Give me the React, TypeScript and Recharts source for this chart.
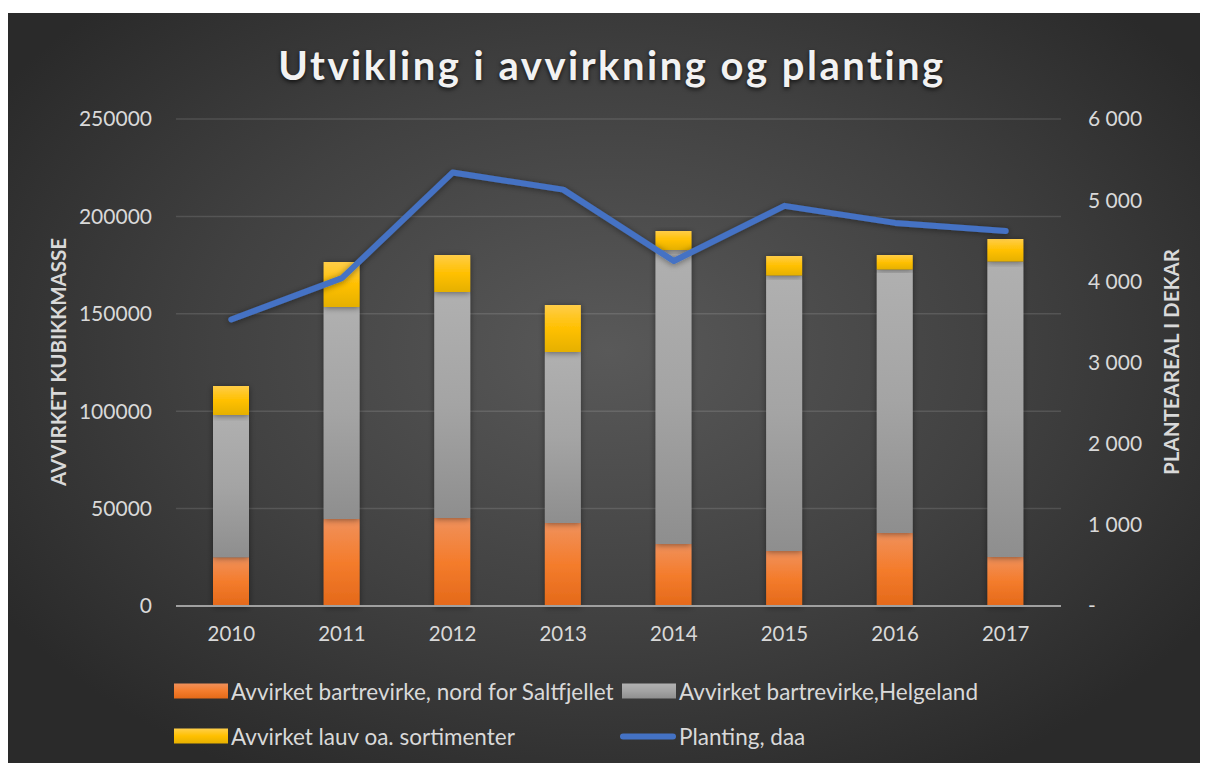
import React from 'react';
import {
  ComposedChart,
  Bar,
  Line,
  XAxis,
  YAxis,
  CartesianGrid,
} from 'recharts';

const years = ['2010', '2011', '2012', '2013', '2014', '2015', '2016', '2017'];
const nord = [25000, 44700, 45200, 42600, 31800, 28200, 37500, 25200];
const helgeland = [73000, 108800, 116000, 87800, 151000, 141400, 135200, 151600];
const lauv = [15000, 23100, 19000, 24100, 9700, 10100, 7500, 11600];
const planting = [3530, 4040, 5340, 5130, 4250, 4930, 4720, 4620];

const leftTicks = [0, 50000, 100000, 150000, 200000, 250000];
const rightTicks = [0, 1000, 2000, 3000, 4000, 5000, 6000];

const seriesNames = {
  nord: 'Avvirket bartrevirke, nord for Saltfjellet',
  helgeland: 'Avvirket bartrevirke,Helgeland',
  lauv: 'Avvirket lauv oa. sortimenter',
  planting: 'Planting, daa',
};

const data = years.map((year, i) => ({
  year,
  nord: nord[i],
  helgeland: helgeland[i],
  lauv: lauv[i],
  planting: planting[i],
}));

const FONT = 'Lato, "Open Sans", sans-serif';
const TEXT = '#d9d9d9';

function formatRight(v: number): string {
  if (v === 0) return '-';
  return String(v).replace(/\B(?=(\d{3})+(?!\d))/g, ' ');
}

type Kind = 'nord' | 'helgeland' | 'lauv' | 'planting';

function Swatch({ kind }: { kind: Kind }) {
  if (kind === 'planting') {
    return (
      <span
        style={{
          display: 'inline-block',
          width: 56,
          height: 6,
          borderRadius: 3,
          background: '#4472c4',
          marginRight: 3,
        }}
      />
    );
  }
  const bg = {
    nord: 'linear-gradient(#f0905a, #f47c2c 50%, #e46a18)',
    helgeland: 'linear-gradient(#b2b2b2, #a3a3a3 50%, #8f8f8f)',
    lauv: 'linear-gradient(#ffcf4a, #ffc000 50%, #e6b000)',
  }[kind];
  return (
    <span
      style={{
        display: 'inline-block',
        width: 54,
        height: 15,
        background: bg,
        marginRight: 3,
      }}
    />
  );
}

function LegendItem({ kind, left, top }: { kind: Kind; left: number; top: number }) {
  return (
    <div
      style={{
        position: 'absolute',
        left,
        top,
        transform: 'translateY(-50%)',
        display: 'flex',
        alignItems: 'center',
        color: TEXT,
        fontFamily: FONT,
        fontSize: 22.5,
        whiteSpace: 'nowrap',
      }}
    >
      <Swatch kind={kind} />
      {seriesNames[kind]}
    </div>
  );
}

export default function App() {
  return (
    <div
      style={{
        position: 'relative',
        marginTop: 5,
        width: 1200,
        height: 750,
        background: 'radial-gradient(ellipse 60% 65% at 50% 45%, #595959 0%, #414141 55%, #2a2a2a 100%)',
        overflow: 'hidden',
      }}
    >
      <div
        style={{
          position: 'absolute',
          left: 0,
          width: 1208,
          top: 28,
          textAlign: 'center',
          color: '#f2f2f2',
          fontFamily: FONT,
          fontWeight: 700,
          fontSize: 40,
          letterSpacing: 2.5,
          textShadow: '0 2px 4px rgba(0,0,0,0.7)',
        }}
      >
        Utvikling i avvirkning og planting
      </div>

      <div
        style={{
          position: 'absolute',
          left: 50,
          top: 349,
          transform: 'translate(-50%, -50%) rotate(-90deg)',
          color: TEXT,
          fontFamily: FONT,
          fontWeight: 700,
          fontSize: 20.5,
          whiteSpace: 'nowrap',
        }}
      >
        AVVIRKET KUBIKKMASSE
      </div>
      <div
        style={{
          position: 'absolute',
          left: 1163,
          top: 349,
          transform: 'translate(-50%, -50%) rotate(-90deg)',
          color: TEXT,
          fontFamily: FONT,
          fontWeight: 700,
          fontSize: 20.5,
          whiteSpace: 'nowrap',
        }}
      >
        PLANTEAREAL I DEKAR
      </div>

      <ComposedChart
        width={1200}
        height={750}
        data={data}
        margin={{ top: 106, right: 67, bottom: 117, left: 68 }}
        barSize={36}
        style={{ position: 'absolute', left: 0, top: 0 }}
      >
        <defs>
          <linearGradient id="gNord" x1="0" y1="0" x2="0" y2="1">
            <stop offset="0%" stopColor="#f0915c" />
            <stop offset="50%" stopColor="#f47c2c" />
            <stop offset="100%" stopColor="#e4691a" />
          </linearGradient>
          <linearGradient id="gHelg" x1="0" y1="0" x2="0" y2="1">
            <stop offset="0%" stopColor="#b0b0b0" />
            <stop offset="50%" stopColor="#a4a4a4" />
            <stop offset="100%" stopColor="#8e8e8e" />
          </linearGradient>
          <linearGradient id="gLauv" x1="0" y1="0" x2="0" y2="1">
            <stop offset="0%" stopColor="#ffcd48" />
            <stop offset="50%" stopColor="#ffc000" />
            <stop offset="100%" stopColor="#e5b000" />
          </linearGradient>
          <filter id="shadow" x="-50%" y="-20%" width="200%" height="140%">
            <feDropShadow dx="0" dy="1" stdDeviation="3" floodColor="#000" floodOpacity="0.45" />
          </filter>
        </defs>
        <CartesianGrid
          yAxisId="left"
          vertical={false}
          stroke="rgba(255,255,255,0.12)"
          strokeWidth={1.5}
        />
        <XAxis
          dataKey="year"
          height={40}
          tickLine={false}
          tickSize={0}
          tickMargin={20}
          axisLine={{ stroke: '#a0a0a0', strokeWidth: 2 }}
          tick={{ fill: TEXT, fontSize: 20.5, fontFamily: FONT }}
        />
        <YAxis
          yAxisId="left"
          orientation="left"
          width={100}
          domain={[0, 250000]}
          ticks={leftTicks}
          interval={0}
          axisLine={false}
          tickLine={false}
          tickSize={0}
          tickMargin={24}
          tick={{ fill: TEXT, fontSize: 21, fontFamily: FONT }}
        />
        <YAxis
          yAxisId="right"
          orientation="right"
          width={80}
          domain={[0, 6000]}
          ticks={rightTicks}
          interval={0}
          axisLine={false}
          tickLine={false}
          tickSize={0}
          tickMargin={27}
          tickFormatter={formatRight}
          tick={{ fill: TEXT, fontSize: 21, fontFamily: FONT, textAnchor: 'start' }}
        />
        <Bar
          yAxisId="left"
          dataKey="nord"
          name={seriesNames.nord}
          stackId="a"
          fill="url(#gNord)"
          filter="url(#shadow)"
          isAnimationActive={false}
        />
        <Bar
          yAxisId="left"
          dataKey="helgeland"
          name={seriesNames.helgeland}
          stackId="a"
          fill="url(#gHelg)"
          filter="url(#shadow)"
          isAnimationActive={false}
        />
        <Bar
          yAxisId="left"
          dataKey="lauv"
          name={seriesNames.lauv}
          stackId="a"
          fill="url(#gLauv)"
          filter="url(#shadow)"
          isAnimationActive={false}
        />
        <Line
          yAxisId="right"
          dataKey="planting"
          name={seriesNames.planting}
          type="linear"
          stroke="#4472c4"
          strokeWidth={6}
          strokeLinecap="round"
          strokeLinejoin="round"
          dot={false}
          activeDot={false}
          filter="url(#shadow)"
          isAnimationActive={false}
        />
      </ComposedChart>

      <LegendItem kind="nord" left={166} top={678} />
      <LegendItem kind="helgeland" left={614} top={678} />
      <LegendItem kind="lauv" left={166} top={723} />
      <LegendItem kind="planting" left={612} top={723} />
    </div>
  );
}
